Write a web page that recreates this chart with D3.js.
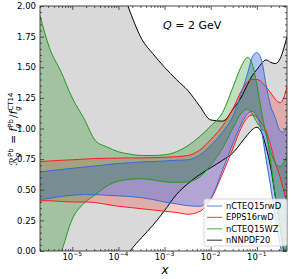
<!DOCTYPE html>
<html>
<head>
<meta charset="utf-8">
<script src="https://cdn.jsdelivr.net/npm/d3@7"></script>
<style>
body { margin: 0; background: #fff; }
text { font-family: "DejaVu Sans", sans-serif; fill: #000; }
</style>
</head>
<body>
<svg id="chart" width="291" height="279"></svg>
<script>
// x grid shared by all bands
const xGrid = [2e-6, 3.2e-6, 5.6e-6, 1e-5, 1.8e-5, 3.2e-5, 5.6e-5, 1e-4, 1.8e-4, 3.2e-4, 5.6e-4, 1e-3, 1.8e-3, 3.2e-3, 5.6e-3, 0.01, 0.018, 0.032, 0.045, 0.063, 0.079, 0.1, 0.126, 0.158, 0.2, 0.25, 0.32, 0.38, 0.45]

const nnpdfUpper = [3.6, 3.45, 3.25, 3.05, 2.85, 2.65, 2.45, 2.22, 1.95, 1.73, 1.61, 1.5, 1.4, 1.31, 1.19, 1.07, 1.06, 1.17, 1.25, 1.36, 1.43, 1.48, 1.53, 1.56, 1.54, 1.53, 1.57, 1.65, 1.75]
const nnpdfLower = [-1.2, -1.1, -0.95, -0.8, -0.65, -0.5, -0.33, -0.16, 0, 0.11, 0.21, 0.33, 0.46, 0.55, 0.62, 0.68, 0.74, 0.81, 0.88, 0.95, 0.99, 1.01, 0.97, 0.85, 0.68, 0.45, 0.2, 0, -0.15]
const eppsUpper = [0.73, 0.735, 0.74, 0.745, 0.75, 0.755, 0.757, 0.758, 0.76, 0.76, 0.762, 0.765, 0.77, 0.78, 0.82, 0.91, 1.02, 1.18, 1.3, 1.38, 1.4, 1.4, 1.38, 1.34, 1.29, 1.24, 1.21, 1.25, 1.34]
const eppsLower = [0.41, 0.41, 0.405, 0.4, 0.4, 0.395, 0.38, 0.365, 0.355, 0.345, 0.335, 0.325, 0.315, 0.3, 0.32, 0.42, 0.63, 0.86, 1.0, 1.09, 1.11, 1.09, 1.04, 0.98, 0.86, 0.72, 0.6, 0.5, 0.39]
const rwdUpper = [0.645, 0.655, 0.665, 0.675, 0.685, 0.695, 0.705, 0.715, 0.72, 0.727, 0.73, 0.735, 0.74, 0.745, 0.78, 0.86, 0.97, 1.12, 1.28, 1.45, 1.58, 1.62, 1.56, 1.36, 1.18, 1.09, 0.98, 0.97, 1.02]
const rwdLower = [0.42, 0.43, 0.445, 0.455, 0.46, 0.46, 0.455, 0.45, 0.445, 0.435, 0.42, 0.4, 0.385, 0.37, 0.365, 0.43, 0.66, 0.9, 1.03, 1.12, 1.14, 1.1, 0.98, 0.75, 0.52, 0.28, 0.05, -0.1, -0.2]
const wzUpper = [1.92, 1.66, 1.47, 1.25, 1.08, 0.9, 0.85, 0.81, 0.79, 0.78, 0.78, 0.785, 0.81, 0.86, 0.93, 1.02, 1.13, 1.36, 1.5, 1.58, 1.53, 1.36, 1.14, 0.95, 0.81, 0.72, 0.69, 0.72, 0.78]
const wzLower = [-0.4, -0.2, -0.02, 0.26, 0.39, 0.46, 0.53, 0.57, 0.585, 0.59, 0.58, 0.565, 0.56, 0.565, 0.6, 0.7, 0.84, 1.02, 1.12, 1.16, 1.12, 1.05, 1.0, 0.96, 0.72, 0.45, 0.2, 0.02, -0.1]

const xTicks = [1e-5, 1e-4, 1e-3, 1e-2, 1e-1]
const xTickExp = ['\u22125', '\u22124', '\u22123', '\u22122', '\u22121']
const yTicks = [0, 0.25, 0.5, 0.75, 1, 1.25, 1.5, 1.75, 2]

// draw order: gray, red, blue, green (legend order differs)
const bands = [
	{name: 'nNNPDF20', lower: nnpdfLower, upper: nnpdfUpper, color: '#000000', fill: '#000000', alpha: 0.15},
	{name: 'EPPS16rwD', lower: eppsLower, upper: eppsUpper, color: '#ff1a1a', fill: '#ff0000', alpha: 0.2},
	{name: 'nCTEQ15rwD', lower: rwdLower, upper: rwdUpper, color: '#2f6fdc', fill: '#4169e1', alpha: 0.4},
	{name: 'nCTEQ15WZ', lower: wzLower, upper: wzUpper, color: '#1f9a1f', fill: '#008000', alpha: 0.25}
]
const legendOrder = ['nCTEQ15rwD', 'EPPS16rwD', 'nCTEQ15WZ', 'nNNPDF20']

const margin = {left: 40, top: 6, right: 287, bottom: 251}

const svg = d3.select('#chart')

const x = d3.scaleLog()
	.domain([2e-6, 0.45])
	.range([margin.left, margin.right])

const y = d3.scaleLinear()
	.domain([0, 2])
	.range([margin.bottom, margin.top])

svg.append('defs').append('clipPath')
	.attr('id', 'plot-clip')
	.append('rect')
	.attr('x', margin.left)
	.attr('y', margin.top)
	.attr('width', margin.right - margin.left)
	.attr('height', margin.bottom - margin.top)

const plot = svg.append('g').attr('clip-path', 'url(#plot-clip)')

const area = (b) => d3.area()
	.x((d, i) => x(xGrid[i]))
	.y0((d, i) => y(b.lower[i]))
	.y1((d, i) => y(b.upper[i]))
	.curve(d3.curveMonotoneX)

const line = d3.line()
	.x((d, i) => x(xGrid[i]))
	.y((d) => y(d))
	.curve(d3.curveMonotoneX)

bands.forEach((b) => {
	plot.append('path')
		.datum(xGrid)
		.attr('d', area(b))
		.attr('fill', b.fill)
		.attr('fill-opacity', b.alpha)
})

bands.forEach((b) => {
	[b.lower, b.upper].forEach((vals) => {
		plot.append('path')
			.datum(vals)
			.attr('d', line)
			.attr('fill', 'none')
			.attr('stroke', b.color)
			.attr('stroke-width', 1)
	})
})

// minor ticks for the log axis
const xMinor = []
for (let e = -6; e <= -1; e++) {
	for (let k = 2; k <= 9; k++) {
		const v = k * Math.pow(10, e)
		if (v >= 2e-6 && v <= 0.45) xMinor.push(v)
	}
}
const yMinor = d3.range(0, 2.001, 0.05).filter((v) => Math.abs(v / 0.25 - Math.round(v / 0.25)) > 1e-6)

function tickAxis(axis, transform) {
	const g = svg.append('g').attr('transform', transform).call(axis)
	g.select('.domain').remove()
	g.selectAll('line').attr('stroke', '#333').attr('stroke-width', 0.8)
	return g
}

tickAxis(d3.axisBottom(x).tickValues(xTicks).tickSize(-4).tickFormat(''), `translate(0,${margin.bottom})`)
tickAxis(d3.axisBottom(x).tickValues(xMinor).tickSize(-2).tickFormat(''), `translate(0,${margin.bottom})`)
tickAxis(d3.axisTop(x).tickValues(xTicks).tickSize(-4).tickFormat(''), `translate(0,${margin.top})`)
tickAxis(d3.axisTop(x).tickValues(xMinor).tickSize(-2).tickFormat(''), `translate(0,${margin.top})`)

const yAxis = tickAxis(d3.axisLeft(y).tickValues(yTicks).tickSize(-4).tickPadding(4).tickFormat(d3.format('.2f')), `translate(${margin.left},0)`)
yAxis.selectAll('text')
	.style('font-family', '"DejaVu Sans", sans-serif')
	.style('font-size', '8.5px')
	.attr('fill', '#000')
tickAxis(d3.axisLeft(y).tickValues(yMinor).tickSize(-2).tickFormat(''), `translate(${margin.left},0)`)
tickAxis(d3.axisRight(y).tickValues(yTicks).tickSize(-4).tickFormat(''), `translate(${margin.right},0)`)
tickAxis(d3.axisRight(y).tickValues(yMinor).tickSize(-2).tickFormat(''), `translate(${margin.right},0)`)

// x tick labels as 10^n
xTicks.forEach((t, i) => {
	const lab = svg.append('text')
		.attr('x', x(t))
		.attr('y', 260)
		.attr('text-anchor', 'middle')
		.style('font-size', '8.5px')
	lab.append('tspan').text('10')
	lab.append('tspan')
		.attr('dy', -4)
		.style('font-size', '6px')
		.text(xTickExp[i])
})

svg.append('rect')
	.attr('x', margin.left)
	.attr('y', margin.top)
	.attr('width', margin.right - margin.left)
	.attr('height', margin.bottom - margin.top)
	.attr('fill', 'none')
	.attr('stroke', '#333')
	.attr('stroke-width', 0.9)

// axis titles
svg.append('text')
	.attr('x', 165)
	.attr('y', 274)
	.attr('text-anchor', 'middle')
	.style('font-size', '12px')
	.style('font-style', 'italic')
	.text('x')

const yl = svg.append('text')
	.attr('transform', `translate(17,${(margin.top + margin.bottom) / 2}) rotate(-90)`)
	.attr('text-anchor', 'middle')
	.style('font-size', '10.5px')

function subSup(sel, base, sub, sup, italic) {
	sel.append('tspan').style('font-style', italic ? 'italic' : 'normal').text(base)
	sel.append('tspan').attr('dy', 2.5).style('font-size', '7px').style('font-style', 'italic').text(sub)
	sel.append('tspan').attr('dx', -4.2).attr('dy', -7).style('font-size', '7px').text(sup)
	sel.append('tspan').attr('dy', 4.5).text('\u200A')
}
subSup(yl, '\u211B', 'g', 'Pb', false)
yl.append('tspan').text(' = ')
subSup(yl, 'f', 'g', 'Pb', true)
yl.append('tspan').text('/')
subSup(yl, 'f', 'g', 'CT14', true)

const qt = svg.append('text')
	.attr('x', 163)
	.attr('y', 29)
	.style('font-size', '11px')
qt.append('tspan').style('font-style', 'italic').text('Q')
qt.append('tspan').text(' = 2 GeV')

// legend
const legend = svg.append('g')
legend.append('rect')
	.attr('x', 204)
	.attr('y', 199)
	.attr('width', 83)
	.attr('height', 47)
	.attr('rx', 2)
	.attr('fill', '#fff')
	.attr('fill-opacity', 0.8)
	.attr('stroke', '#ccc')
	.attr('stroke-width', 0.8)

legendOrder.forEach((name, i) => {
	const b = bands.find((d) => d.name === name)
	const ly = 206 + i * 11.4
	legend.append('line')
		.attr('x1', 207)
		.attr('x2', 222)
		.attr('y1', ly)
		.attr('y2', ly)
		.attr('stroke', b.color)
		.attr('stroke-opacity', 0.7)
		.attr('stroke-width', 1.2)
	legend.append('text')
		.attr('x', 226)
		.attr('y', ly + 3)
		.style('font-size', '8.3px')
		.text(name)
})
</script>
</body>
</html>
